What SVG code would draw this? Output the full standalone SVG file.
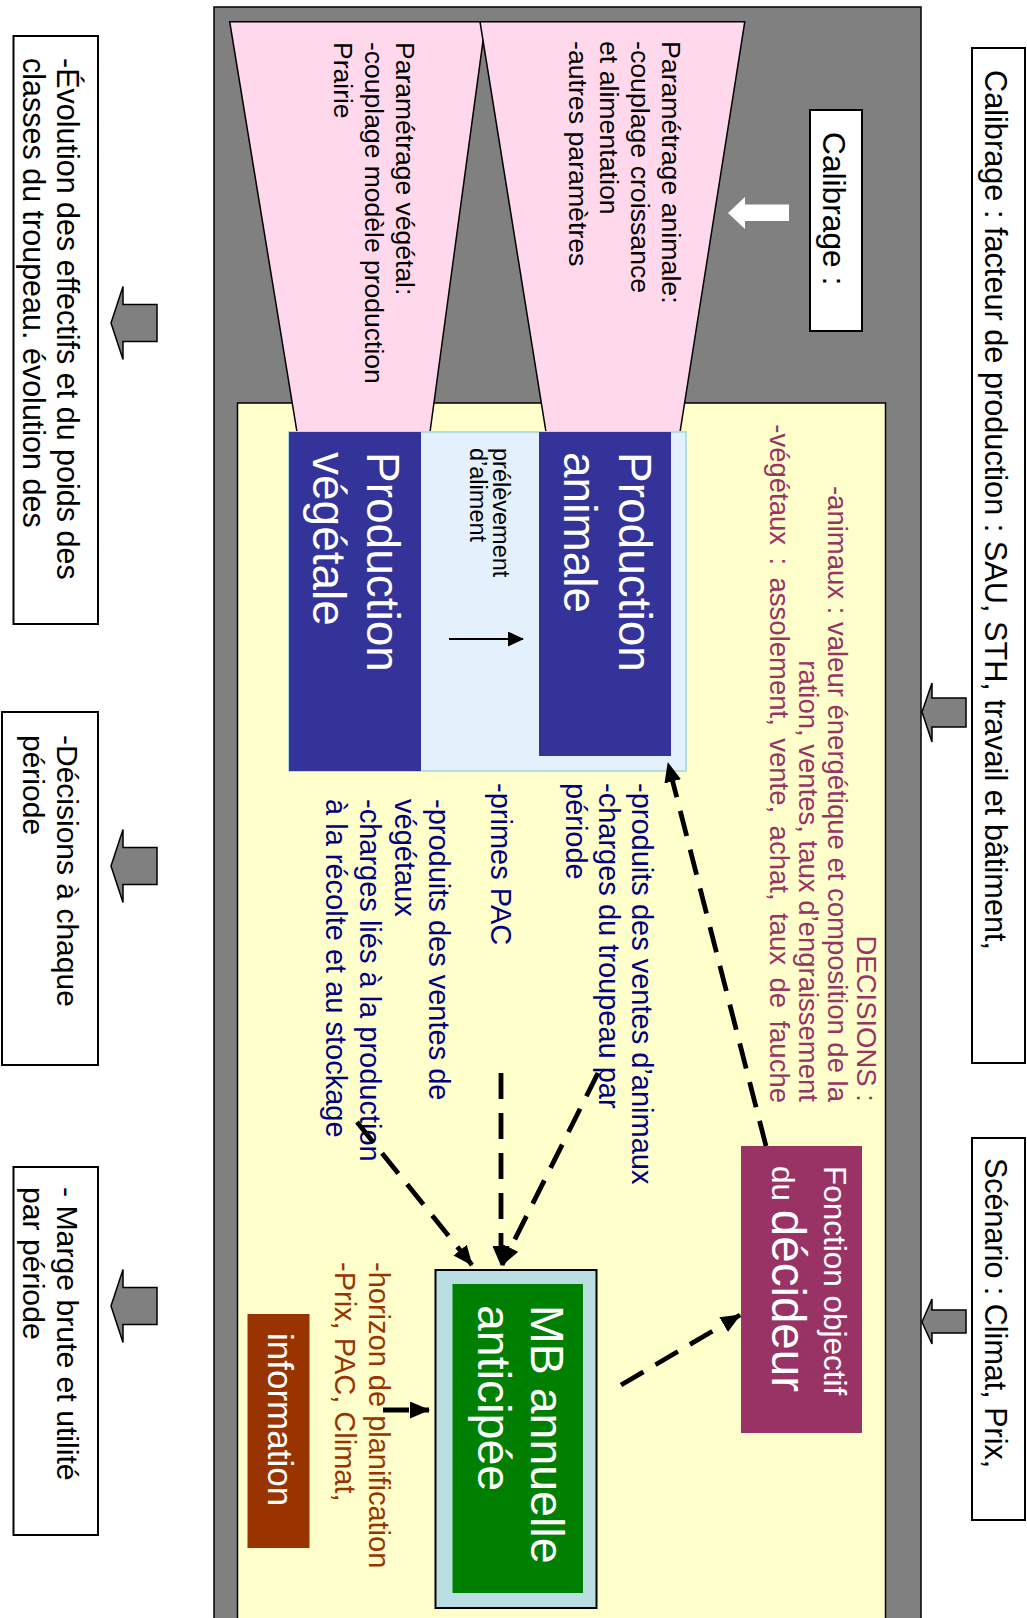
<svg xmlns="http://www.w3.org/2000/svg" width="1027" height="1618" viewBox="0 0 1027 1618">
<style>
text{font-family:"Liberation Sans",Arial,sans-serif}
.box{fill:#fff;stroke:#000;stroke-width:2}
.garrow{fill:#808080;stroke:#000;stroke-width:1.5}
.pink{fill:#ffd9eb;stroke:#000;stroke-width:1.5}
.prod{fill:#333399}
.wt{fill:#fff}
.blk{fill:#000}
.navy{fill:#000080;font-size:29px}
.dec{fill:#993366;font-size:27.5px}
.brn{fill:#993300;font-size:29px}
.dash{fill:none;stroke:#000;stroke-width:4.8;stroke-dasharray:26 14;marker-end:url(#ah)}
</style>
<defs>
<marker id="ah" markerUnits="userSpaceOnUse" markerWidth="20" markerHeight="17" refX="19" refY="8.5" orient="auto">
<path d="M0,0 L20,8.5 L0,17 z" fill="#000"/>
</marker>
<marker id="ahs" markerUnits="userSpaceOnUse" markerWidth="16" markerHeight="16" refX="15" refY="7.5" orient="auto">
<path d="M0,0 L16,7.5 L0,15 z" fill="#000"/>
</marker>
</defs>

<g id="frame">
<rect x="214" y="7" width="707" height="1625" fill="#808080" stroke="#000" stroke-width="1.5"/>
<rect x="237.5" y="403" width="648" height="1230" fill="#ffffcc" stroke="#000" stroke-width="1.5"/>
</g>

<g id="calibrage-facteurs">
<rect class="box" x="972" y="48" width="53" height="1015"/>
<text transform="translate(985,70) rotate(90)" font-size="30.7">Calibrage : facteur de production : SAU, STH, travail et bâtiment,</text>
</g>
<g id="scenario">
<rect class="box" x="972" y="1138" width="53" height="382"/>
<text transform="translate(985,1158) rotate(90)" font-size="30.5">Scénario : Climat, Prix,</text>
</g>

<g id="out-evolution">
<rect class="box" x="13.5" y="36" width="84.5" height="588"/>
<text transform="translate(57,58) rotate(90)" font-size="30.5"><tspan x="0" y="0">-Évolution des effectifs et du poids des</tspan><tspan x="0" y="34">classes du troupeau. évolution des</tspan></text>
</g>
<g id="out-decisions">
<rect class="box" x="2" y="712" width="96" height="353"/>
<text transform="translate(57,735) rotate(90)" font-size="30"><tspan x="0" y="0">-Décisions à chaque</tspan><tspan x="0" y="34">période</tspan></text>
</g>
<g id="out-marge">
<rect class="box" x="13.5" y="1167" width="84.5" height="368"/>
<text transform="translate(57,1187) rotate(90)" font-size="30.2"><tspan x="0" y="0">- Marge brute et utilité</tspan><tspan x="0" y="34">par période</tspan></text>
</g>

<g id="block-arrows">
<path class="garrow" d="M922,712 L932,683 L932,698 L966,698 L966,727 L932,727 L932,742 Z"/>
<path class="garrow" d="M922,1322 L932,1299 L932,1310 L966,1310 L966,1333 L932,1333 L932,1344 Z"/>
<path class="garrow" d="M111,323 L123,286.5 L123,304.5 L157,304.5 L157,341.5 L123,341.5 L123,359.5 Z"/>
<path class="garrow" d="M111,866 L123,829.5 L123,847.5 L157,847.5 L157,884.5 L123,884.5 L123,902.5 Z"/>
<path class="garrow" d="M111,1306 L123,1269.5 L123,1287.5 L157,1287.5 L157,1324.5 L123,1324.5 L123,1342.5 Z"/>
<path d="M728,213 L745,197 L745,204.5 L789,204.5 L789,221 L745,221 L745,229 Z" fill="#fff"/>
</g>

<g id="param-vegetal">
<path class="pink" d="M229.7,21.7 L485.6,21.7 L430,432 L297,432 Z"/>
<text transform="translate(396,42) rotate(90)" font-size="26.5"><tspan x="0" y="0">Paramétrage végétal:</tspan><tspan x="0" y="31">-couplage modèle production</tspan><tspan x="0" y="62">Prairie</tspan></text>
</g>
<g id="param-animal">
<path class="pink" d="M480,21.7 L744.8,21.7 L680,432 L546,432 Z"/>
<text transform="translate(662,41) rotate(90)" font-size="26.7"><tspan x="0" y="0">Paramétrage animale:</tspan><tspan x="0" y="31">-couplage croissance</tspan><tspan x="0" y="62">et alimentation</tspan><tspan x="0" y="93">-autres paramètres</tspan></text>
</g>

<g id="calibrage">
<rect class="box" x="810" y="110" width="52" height="221"/>
<text transform="translate(823,132) rotate(90)" font-size="31.7">Calibrage :</text>
</g>

<g id="productions">
<rect x="289" y="432" width="397" height="339" fill="#e4f0fc" stroke="#b3dde6" stroke-width="2"/>
<text class="blk" transform="translate(493,448) rotate(90)" font-size="23.5"><tspan x="0" y="0">prélèvement</tspan><tspan x="0" y="23">d’aliment</tspan></text>
<line x1="449" y1="639" x2="523" y2="639" stroke="#000" stroke-width="1.8" marker-end="url(#ahs)"/>
</g>
<g id="production-vegetale">
<rect class="prod" x="289" y="432" width="132" height="339"/>
<text class="wt" transform="translate(367,452) rotate(90)" font-size="46"><tspan x="0" y="0">Production</tspan><tspan x="0" y="54">végétale</tspan></text>
</g>
<g id="production-animale">
<rect class="prod" x="539" y="432" width="132" height="324"/>
<text class="wt" transform="translate(619,452) rotate(90)" font-size="46"><tspan x="0" y="0">Production</tspan><tspan x="0" y="55">animale</tspan></text>
</g>

<g id="decisions">
<text class="dec" text-anchor="end" transform="translate(857,1102) rotate(90)"><tspan x="0" y="0">DECISIONS :</tspan><tspan x="0" y="29">-animaux : valeur énergétique et composition de la</tspan><tspan x="0" y="58">ration, ventes, taux d’engraissement</tspan></text>
<text class="dec" text-anchor="end" transform="translate(770,1103) rotate(90)" word-spacing="4.8">-végétaux : assolement, vente, achat, taux de fauche</text>
</g>

<g id="produits-animaux">
<text class="navy" transform="translate(632,783) rotate(90)"><tspan x="0" y="0">-produits des ventes d’animaux</tspan><tspan x="0" y="33">-charges du troupeau par</tspan><tspan x="0" y="66">période</tspan></text>
</g>
<g id="primes">
<text class="navy" transform="translate(491,783) rotate(90)">-primes PAC</text>
</g>
<g id="produits-vegetaux">
<text class="navy" transform="translate(429,799) rotate(90)"><tspan x="0" y="0">-produits des ventes de</tspan><tspan x="0" y="34.5">végétaux</tspan><tspan x="0" y="69">-charges liés à la production</tspan><tspan x="0" y="103.5">à la récolte et au stockage</tspan></text>
</g>

<g id="fonction-objectif">
<rect x="741" y="1146" width="121" height="287" fill="#993366"/>
<text class="wt" transform="translate(824,1166) rotate(90)" font-size="31.5"><tspan x="0" y="0">Fonction objectif</tspan><tspan x="0" y="52">du </tspan><tspan font-size="47.5">décideur</tspan></text>
</g>

<g id="mb-annuelle">
<rect x="435.5" y="1270" width="161" height="338" fill="#b9dfe3" stroke="#000" stroke-width="2"/>
<rect x="452.5" y="1284" width="130.5" height="309" fill="#008000"/>
<text class="wt" transform="translate(531,1305) rotate(90)" font-size="46.5"><tspan x="0" y="0">MB annuelle</tspan><tspan x="0" y="53">anticipée</tspan></text>
</g>

<g id="information">
<rect x="247.5" y="1314" width="62" height="234" fill="#993300"/>
<text class="wt" transform="translate(268,1333) rotate(90)" font-size="35">information</text>
</g>
<g id="horizon">
<text class="brn" transform="translate(369,1262) rotate(90)"><tspan x="0" y="0">-horizon de planification</tspan><tspan x="0" y="34">-Prix, PAC, Climat,</tspan></text>
</g>

<g id="connectors">
<line class="dash" x1="766" y1="1146" x2="668" y2="763"/>
<line class="dash" x1="598" y1="1073" x2="502" y2="1265"/>
<line class="dash" x1="501" y1="1073" x2="501" y2="1265"/>
<line class="dash" x1="357" y1="1122" x2="472" y2="1265"/>
<line class="dash" x1="621" y1="1385" x2="740" y2="1315"/>
<line class="dash" x1="383" y1="1410" x2="429" y2="1410"/>
</g>
</svg>
